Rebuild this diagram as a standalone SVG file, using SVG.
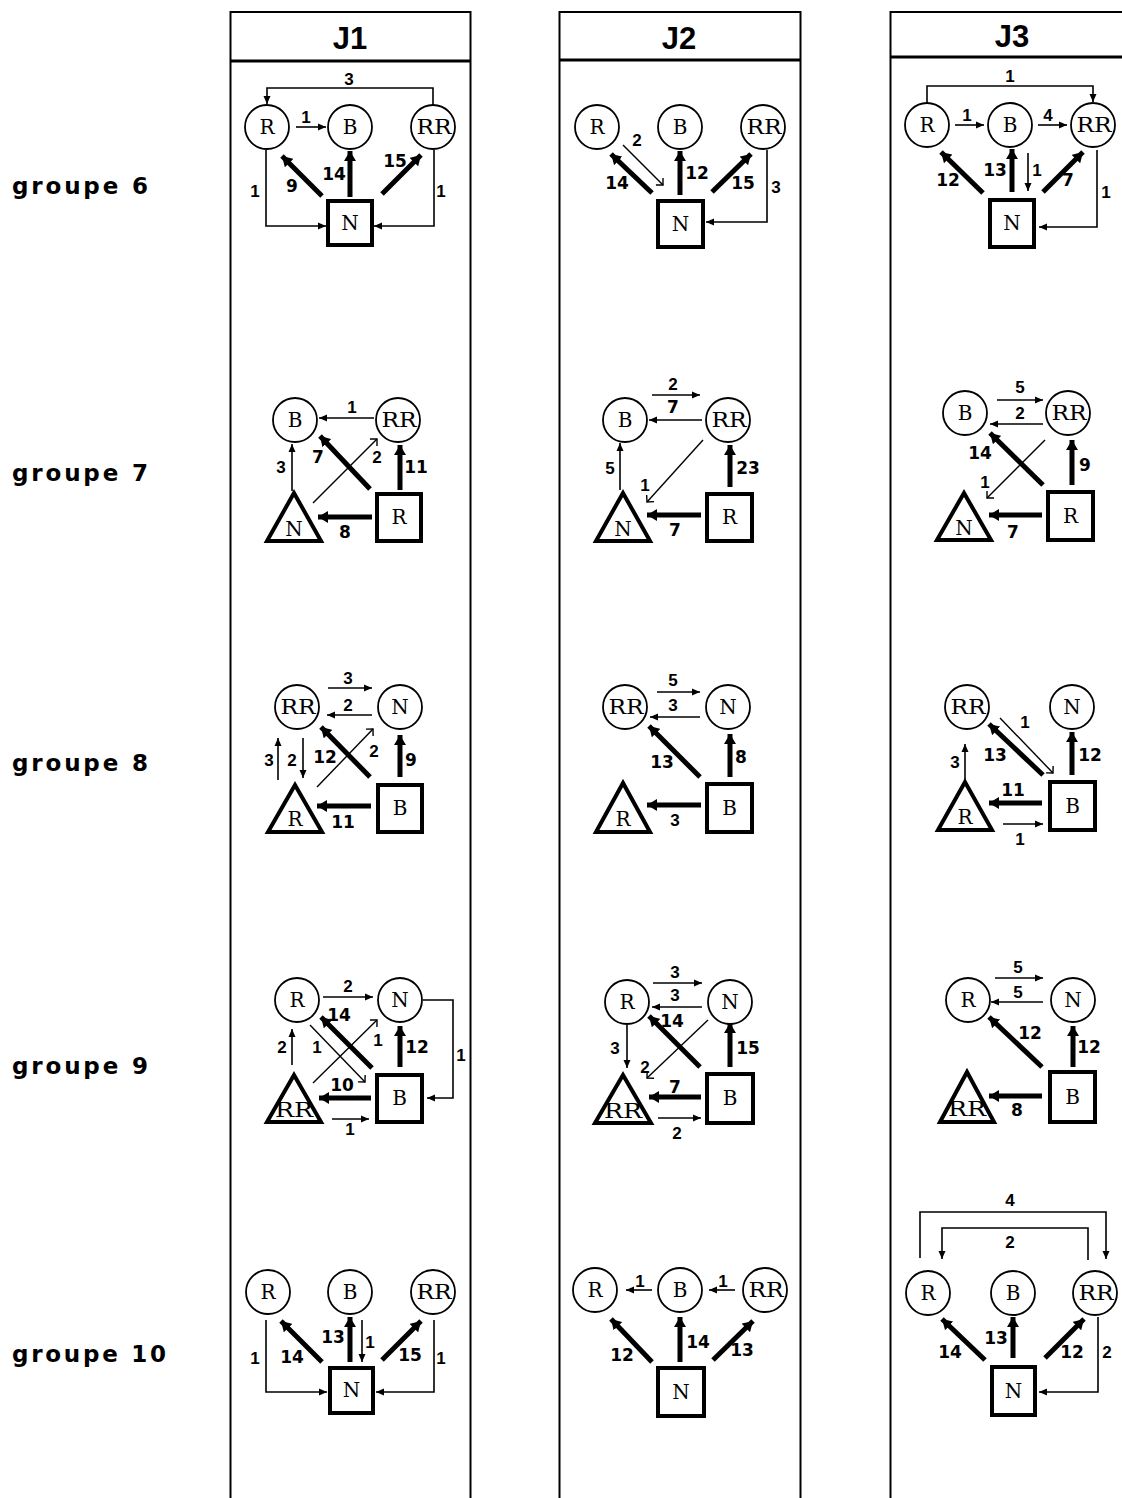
<svg xmlns="http://www.w3.org/2000/svg" width="1122" height="1498" viewBox="0 0 1122 1498">
<style>
.frame{fill:none;stroke:#000;stroke-width:2}
.hd{stroke:#000;stroke-width:3}
.ht{font-family:"Liberation Sans",Arial,sans-serif;font-weight:bold;font-size:31px;text-anchor:middle}
.gl{font-family:"DejaVu Sans",sans-serif;font-weight:bold;font-size:23px}
.c{fill:#fff;stroke:#000;stroke-width:1.8}
.s{fill:#fff;stroke:#000;stroke-width:4}
.t{fill:#fff;stroke:#000;stroke-width:4;stroke-linejoin:miter}
.nl{font-family:"DejaVu Serif","Liberation Serif",serif;font-size:20px;text-anchor:middle}
.tn{fill:none;stroke:#000;stroke-width:1.6;marker-end:url(#a)}
.th{fill:none;stroke:#000;stroke-width:5;marker-end:url(#b)}
.tk{fill:none;stroke:#000;stroke-width:1.4;marker-end:url(#h)}
.lt{font-family:"Liberation Sans",Arial,sans-serif;font-weight:bold;font-size:17px;text-anchor:middle}
.lb{font-family:"DejaVu Sans",sans-serif;font-weight:bold;font-size:17px;text-anchor:middle}
</style>
<defs>
<marker id="a" markerUnits="userSpaceOnUse" viewBox="0 0 8 8" refX="8" refY="4" markerWidth="8" markerHeight="8" orient="auto"><path d="M0,0.5 L8,4 L0,7.5z"/></marker>
<marker id="b" markerUnits="userSpaceOnUse" viewBox="0 0 10 12" refX="10" refY="6" markerWidth="10" markerHeight="12" orient="auto"><path d="M0,0 L10,6 L0,12z"/></marker>
<marker id="h" markerUnits="userSpaceOnUse" viewBox="-7 -7 8 14" refX="0" refY="0" markerWidth="8" markerHeight="14" orient="auto" overflow="visible"><path d="M-5,-5 L0,0 L-5,5" fill="none" stroke="#000" stroke-width="1.4"/></marker>
</defs>
<rect width="1122" height="1498" fill="#fff"/>

<g id="frames">
<rect class="frame" x="230.5" y="12" width="240" height="1500"/>
<line class="hd" x1="230" y1="61" x2="471" y2="61"/>
<text class="ht" x="350" y="49">J1</text>
<rect class="frame" x="559.5" y="12" width="241" height="1500"/>
<line class="hd" x1="559" y1="60" x2="801" y2="60"/>
<text class="ht" x="679" y="49">J2</text>
<rect class="frame" x="890.5" y="12" width="260" height="1500"/>
<line class="hd" x1="890" y1="57" x2="1122" y2="57"/>
<text class="ht" x="1012" y="47">J3</text>
</g>

<g id="row-labels">
<text class="gl" x="12" y="194" textLength="136" lengthAdjust="spacing">groupe 6</text>
<text class="gl" x="12" y="481" textLength="136" lengthAdjust="spacing">groupe 7</text>
<text class="gl" x="12" y="771" textLength="136" lengthAdjust="spacing">groupe 8</text>
<text class="gl" x="12" y="1074" textLength="136" lengthAdjust="spacing">groupe 9</text>
<text class="gl" x="12" y="1362" textLength="154" lengthAdjust="spacing">groupe 10</text>
</g>

<!-- J1 groupe 6 -->
<g id="j1g6-R"><circle class="c" cx="267" cy="127" r="22"/><text class="nl" x="267" y="134">R</text></g>
<g id="j1g6-B"><circle class="c" cx="350" cy="127" r="22"/><text class="nl" x="350" y="134">B</text></g>
<g id="j1g6-RR"><circle class="c" cx="433" cy="127" r="22"/><text class="nl" x="434" y="134" textLength="35" lengthAdjust="spacingAndGlyphs">RR</text></g>
<g id="j1g6-N"><rect class="s" x="328" y="201" width="44" height="44"/><text class="nl" x="350" y="230">N</text></g>
<!-- J1 groupe 7 -->
<g id="j1g7-B"><circle class="c" cx="295" cy="420" r="22"/><text class="nl" x="295" y="427">B</text></g>
<g id="j1g7-RR"><circle class="c" cx="398" cy="420" r="22"/><text class="nl" x="399" y="427" textLength="35" lengthAdjust="spacingAndGlyphs">RR</text></g>
<g id="j1g7-N"><polygon class="t" points="294,493 267,541 321,541"/><text class="nl" x="294" y="536">N</text></g>
<g id="j1g7-R"><rect class="s" x="377" y="494" width="44" height="47"/><text class="nl" x="399" y="524">R</text></g>
<!-- J1 groupe 8 -->
<g id="j1g8-RR"><circle class="c" cx="297" cy="707" r="22"/><text class="nl" x="298" y="714" textLength="35" lengthAdjust="spacingAndGlyphs">RR</text></g>
<g id="j1g8-N"><circle class="c" cx="400" cy="707" r="22"/><text class="nl" x="400" y="714">N</text></g>
<g id="j1g8-R"><polygon class="t" points="295,785 268,832 322,832"/><text class="nl" x="295" y="826">R</text></g>
<g id="j1g8-B"><rect class="s" x="378" y="785" width="44" height="47"/><text class="nl" x="400" y="815">B</text></g>
<!-- J1 groupe 9 -->
<g id="j1g9-R"><circle class="c" cx="297" cy="1000" r="22"/><text class="nl" x="297" y="1007">R</text></g>
<g id="j1g9-N"><circle class="c" cx="400" cy="1000" r="22"/><text class="nl" x="400" y="1007">N</text></g>
<g id="j1g9-RR"><polygon class="t" points="294,1075 267,1122 321,1122"/><text class="nl" x="294" y="1117" textLength="38" lengthAdjust="spacingAndGlyphs">RR</text></g>
<g id="j1g9-B"><rect class="s" x="377" y="1075" width="45" height="47"/><text class="nl" x="399.5" y="1105">B</text></g>
<!-- J1 groupe 10 -->
<g id="j1g10-R"><circle class="c" cx="268" cy="1292" r="22"/><text class="nl" x="268" y="1299">R</text></g>
<g id="j1g10-B"><circle class="c" cx="350" cy="1292" r="22"/><text class="nl" x="350" y="1299">B</text></g>
<g id="j1g10-RR"><circle class="c" cx="433" cy="1292" r="22"/><text class="nl" x="434" y="1299" textLength="35" lengthAdjust="spacingAndGlyphs">RR</text></g>
<g id="j1g10-N"><rect class="s" x="330" y="1368" width="43" height="45"/><text class="nl" x="351.5" y="1397">N</text></g>

<!-- J2 groupe 6 -->
<g id="j2g6-R"><circle class="c" cx="597" cy="127" r="22"/><text class="nl" x="597" y="134">R</text></g>
<g id="j2g6-B"><circle class="c" cx="680" cy="127" r="22"/><text class="nl" x="680" y="134">B</text></g>
<g id="j2g6-RR"><circle class="c" cx="763" cy="127" r="22"/><text class="nl" x="764" y="134" textLength="35" lengthAdjust="spacingAndGlyphs">RR</text></g>
<g id="j2g6-N"><rect class="s" x="658" y="201" width="45" height="46"/><text class="nl" x="680.5" y="231">N</text></g>
<!-- J2 groupe 7 -->
<g id="j2g7-B"><circle class="c" cx="625" cy="420" r="22"/><text class="nl" x="625" y="427">B</text></g>
<g id="j2g7-RR"><circle class="c" cx="728" cy="420" r="22"/><text class="nl" x="729" y="427" textLength="35" lengthAdjust="spacingAndGlyphs">RR</text></g>
<g id="j2g7-N"><polygon class="t" points="623,493 596,541 650,541"/><text class="nl" x="623" y="536">N</text></g>
<g id="j2g7-R"><rect class="s" x="707" y="494" width="45" height="47"/><text class="nl" x="729.5" y="524">R</text></g>
<!-- J2 groupe 8 -->
<g id="j2g8-RR"><circle class="c" cx="625" cy="707" r="22"/><text class="nl" x="626" y="714" textLength="35" lengthAdjust="spacingAndGlyphs">RR</text></g>
<g id="j2g8-N"><circle class="c" cx="728" cy="707" r="22"/><text class="nl" x="728" y="714">N</text></g>
<g id="j2g8-R"><polygon class="t" points="623,783 596,832 650,832"/><text class="nl" x="623" y="826">R</text></g>
<g id="j2g8-B"><rect class="s" x="707" y="784" width="45" height="48"/><text class="nl" x="729.5" y="815">B</text></g>
<!-- J2 groupe 9 -->
<g id="j2g9-R"><circle class="c" cx="627" cy="1002" r="22"/><text class="nl" x="627" y="1009">R</text></g>
<g id="j2g9-N"><circle class="c" cx="730" cy="1002" r="22"/><text class="nl" x="730" y="1009">N</text></g>
<g id="j2g9-RR"><polygon class="t" points="623,1075 595,1123 651,1123"/><text class="nl" x="623" y="1118" textLength="38" lengthAdjust="spacingAndGlyphs">RR</text></g>
<g id="j2g9-B"><rect class="s" x="707" y="1074" width="46" height="49"/><text class="nl" x="730" y="1105">B</text></g>
<!-- J2 groupe 10 -->
<g id="j2g10-R"><circle class="c" cx="595" cy="1290" r="22"/><text class="nl" x="595" y="1297">R</text></g>
<g id="j2g10-B"><circle class="c" cx="680" cy="1290" r="22"/><text class="nl" x="680" y="1297">B</text></g>
<g id="j2g10-RR"><circle class="c" cx="765" cy="1290" r="22"/><text class="nl" x="766" y="1297" textLength="35" lengthAdjust="spacingAndGlyphs">RR</text></g>
<g id="j2g10-N"><rect class="s" x="658" y="1368" width="46" height="48"/><text class="nl" x="681" y="1399">N</text></g>

<!-- J3 groupe 6 -->
<g id="j3g6-R"><circle class="c" cx="927" cy="125" r="22"/><text class="nl" x="927" y="132">R</text></g>
<g id="j3g6-B"><circle class="c" cx="1010" cy="125" r="22"/><text class="nl" x="1010" y="132">B</text></g>
<g id="j3g6-RR"><circle class="c" cx="1093" cy="125" r="22"/><text class="nl" x="1094" y="132" textLength="35" lengthAdjust="spacingAndGlyphs">RR</text></g>
<g id="j3g6-N"><rect class="s" x="990" y="200" width="44" height="47"/><text class="nl" x="1012" y="230">N</text></g>
<!-- J3 groupe 7 -->
<g id="j3g7-B"><circle class="c" cx="965" cy="413" r="22"/><text class="nl" x="965" y="420">B</text></g>
<g id="j3g7-RR"><circle class="c" cx="1068" cy="413" r="22"/><text class="nl" x="1069" y="420" textLength="35" lengthAdjust="spacingAndGlyphs">RR</text></g>
<g id="j3g7-N"><polygon class="t" points="964,493 937,540 991,540"/><text class="nl" x="964" y="535">N</text></g>
<g id="j3g7-R"><rect class="s" x="1048" y="492" width="45" height="48"/><text class="nl" x="1070.5" y="523">R</text></g>
<!-- J3 groupe 8 -->
<g id="j3g8-RR"><circle class="c" cx="967" cy="707" r="22"/><text class="nl" x="968" y="714" textLength="35" lengthAdjust="spacingAndGlyphs">RR</text></g>
<g id="j3g8-N"><circle class="c" cx="1072" cy="707" r="22"/><text class="nl" x="1072" y="714">N</text></g>
<g id="j3g8-R"><polygon class="t" points="965,782 938,830 992,830"/><text class="nl" x="965" y="824">R</text></g>
<g id="j3g8-B"><rect class="s" x="1050" y="782" width="45" height="48"/><text class="nl" x="1072.5" y="813">B</text></g>
<!-- J3 groupe 9 -->
<g id="j3g9-R"><circle class="c" cx="968" cy="1000" r="22"/><text class="nl" x="968" y="1007">R</text></g>
<g id="j3g9-N"><circle class="c" cx="1073" cy="1000" r="22"/><text class="nl" x="1073" y="1007">N</text></g>
<g id="j3g9-RR"><polygon class="t" points="967,1072 940,1122 994,1122"/><text class="nl" x="967" y="1116" textLength="38" lengthAdjust="spacingAndGlyphs">RR</text></g>
<g id="j3g9-B"><rect class="s" x="1050" y="1072" width="45" height="50"/><text class="nl" x="1072.5" y="1104">B</text></g>
<!-- J3 groupe 10 -->
<g id="j3g10-R"><circle class="c" cx="928" cy="1293" r="22"/><text class="nl" x="928" y="1300">R</text></g>
<g id="j3g10-B"><circle class="c" cx="1013" cy="1293" r="22"/><text class="nl" x="1013" y="1300">B</text></g>
<g id="j3g10-RR"><circle class="c" cx="1095" cy="1293" r="22"/><text class="nl" x="1096" y="1300" textLength="35" lengthAdjust="spacingAndGlyphs">RR</text></g>
<g id="j3g10-N"><rect class="s" x="992" y="1367" width="43" height="48"/><text class="nl" x="1013.5" y="1398">N</text></g>

<g id="connectors">
<!-- J1 g6 -->
<path class="tn" d="M433,105 V88 H267 V104"/><text class="lt" x="349" y="85">3</text>
<path class="tn" d="M296,127 H326"/><text class="lt" x="306" y="123">1</text>
<path class="tn" d="M266,150 V226 H326"/><text class="lt" x="255" y="197">1</text>
<path class="tn" d="M434,150 V226 H374"/><text class="lt" x="441" y="197">1</text>
<path class="th" d="M322,196 L282,156"/><text class="lb" x="292" y="192">9</text>
<path class="th" d="M350,197 V151"/><text class="lb" x="334" y="180">14</text>
<path class="th" d="M382,194 L421,155"/><text class="lb" x="395" y="167">15</text>
<!-- J1 g7 -->
<path class="tn" d="M374,418 H319"/><text class="lt" x="352" y="413">1</text>
<path class="tn" d="M292,491 V444"/><text class="lt" x="281" y="473">3</text>
<path class="th" d="M372,517 H318"/><text class="lb" x="345" y="538">8</text>
<path class="th" d="M400,490 V445"/><text class="lb" x="416" y="473">11</text>
<path class="th" d="M370,489 L320,436"/><text class="lb" x="318" y="463">7</text>
<path class="tk" d="M313,503 L377,439"/><text class="lt" x="377" y="463">2</text>
<!-- J1 g8 -->
<path class="tn" d="M328,688 H372"/><text class="lt" x="348" y="684">3</text>
<path class="tn" d="M372,715 H327"/><text class="lt" x="348" y="711">2</text>
<path class="tn" d="M278,780 V738"/><text class="lt" x="269" y="766">3</text>
<path class="tn" d="M303,738 V778"/><text class="lt" x="292" y="766">2</text>
<path class="th" d="M370,777 L321,727"/><text class="lb" x="325" y="763">12</text>
<path class="tk" d="M317,787 L373,729"/><text class="lt" x="374" y="757">2</text>
<path class="th" d="M400,777 V735"/><text class="lb" x="411" y="766">9</text>
<path class="th" d="M371,806 H317"/><text class="lb" x="343" y="828">11</text>
<!-- J1 g9 -->
<path class="tn" d="M323,997 H373"/><text class="lt" x="348" y="992">2</text>
<path class="th" d="M372,1068 L321,1017"/><text class="lb" x="339" y="1021">14</text>
<path class="tk" d="M310,1025 L365,1082"/><text class="lt" x="317" y="1053">1</text>
<path class="tk" d="M313,1083 L377,1020"/><text class="lt" x="378" y="1046">1</text>
<path class="tn" d="M292,1065 V1029"/><text class="lt" x="282" y="1053">2</text>
<path class="th" d="M400,1067 V1026"/><text class="lb" x="417" y="1053">12</text>
<path class="th" d="M371,1098 H319"/><text class="lb" x="342" y="1091">10</text>
<path class="tn" d="M332,1119 H369"/><text class="lt" x="350" y="1135">1</text>
<path class="tn" d="M423,1000 H453 V1098 H427"/><text class="lt" x="461" y="1061">1</text>
<!-- J1 g10 -->
<path class="tn" d="M266,1320 V1392 H327"/><text class="lt" x="255" y="1364">1</text>
<path class="tn" d="M434,1320 V1392 H376"/><text class="lt" x="441" y="1364">1</text>
<path class="th" d="M322,1362 L281,1321"/><text class="lb" x="292" y="1363">14</text>
<path class="th" d="M350,1362 V1317"/><text class="lb" x="333" y="1343">13</text>
<path class="tn" d="M362,1320 V1362"/><text class="lt" x="370" y="1348">1</text>
<path class="th" d="M382,1360 L421,1321"/><text class="lb" x="410" y="1361">15</text>

<!-- J2 g6 -->
<path class="th" d="M652,193 L611,154"/><text class="lb" x="617" y="189">14</text>
<path class="tk" d="M623,145 L663,185"/><text class="lt" x="637" y="146">2</text>
<path class="th" d="M680,195 V151"/><text class="lb" x="697" y="179">12</text>
<path class="th" d="M712,192 L751,154"/><text class="lb" x="743" y="189">15</text>
<path class="tn" d="M767,150 V222 H706"/><text class="lt" x="776" y="193">3</text>
<!-- J2 g7 -->
<path class="tn" d="M652,395 H700"/><text class="lt" x="673" y="390">2</text>
<path class="tn" d="M702,420 H649"/><text class="lb" x="673" y="413">7</text>
<path class="tn" d="M620,490 V443"/><text class="lt" x="610" y="474">5</text>
<path class="tk" d="M703,440 L647,502"/><text class="lt" x="645" y="491">1</text>
<path class="th" d="M730,487 V445"/><text class="lb" x="748" y="474">23</text>
<path class="th" d="M701,515 H647"/><text class="lb" x="675" y="536">7</text>
<!-- J2 g8 -->
<path class="tn" d="M657,692 H700"/><text class="lt" x="673" y="686">5</text>
<path class="tn" d="M700,717 H650"/><text class="lt" x="673" y="711">3</text>
<path class="th" d="M700,777 L649,726"/><text class="lb" x="662" y="768">13</text>
<path class="th" d="M730,777 V734"/><text class="lb" x="741" y="763">8</text>
<path class="th" d="M701,805 H647"/><text class="lt" x="675" y="826">3</text>
<!-- J2 g9 -->
<path class="tn" d="M653,983 H702"/><text class="lt" x="675" y="978">3</text>
<path class="tn" d="M702,1007 H652"/><text class="lt" x="675" y="1001">3</text>
<path class="th" d="M700,1067 L649,1016"/><text class="lb" x="672" y="1027">14</text>
<path class="tk" d="M708,1020 L647,1078"/><text class="lt" x="645" y="1073">2</text>
<path class="tn" d="M627,1025 V1068"/><text class="lt" x="615" y="1054">3</text>
<path class="th" d="M730,1067 V1023"/><text class="lb" x="748" y="1054">15</text>
<path class="th" d="M701,1097 H649"/><text class="lb" x="675" y="1093">7</text>
<path class="tn" d="M658,1118 H701"/><text class="lt" x="677" y="1139">2</text>
<!-- J2 g10 -->
<path class="tn" d="M652,1290 H626"/><text class="lt" x="640" y="1287">1</text>
<path class="tn" d="M735,1290 H709"/><text class="lt" x="723" y="1287">1</text>
<path class="th" d="M652,1362 L611,1319"/><text class="lb" x="622" y="1361">12</text>
<path class="th" d="M680,1362 V1317"/><text class="lb" x="698" y="1348">14</text>
<path class="th" d="M713,1360 L753,1321"/><text class="lb" x="742" y="1356">13</text>

<!-- J3 g6 -->
<path class="tn" d="M927,103 V86 H1093 V102"/><text class="lt" x="1010" y="82">1</text>
<path class="tn" d="M955,125 H984"/><text class="lt" x="967" y="121">1</text>
<path class="tn" d="M1038,125 H1067"/><text class="lt" x="1048" y="121">4</text>
<path class="th" d="M983,193 L941,152"/><text class="lb" x="948" y="186">12</text>
<path class="th" d="M1012,192 V149"/><text class="lb" x="995" y="176">13</text>
<path class="tn" d="M1028,153 V191"/><text class="lt" x="1037" y="176">1</text>
<path class="th" d="M1043,192 L1083,152"/><text class="lb" x="1068" y="186">7</text>
<path class="tn" d="M1097,150 V227 H1039"/><text class="lt" x="1106" y="198">1</text>
<!-- J3 g7 -->
<path class="tn" d="M997,400 H1043"/><text class="lt" x="1020" y="393">5</text>
<path class="tn" d="M1043,424 H990"/><text class="lt" x="1020" y="419">2</text>
<path class="th" d="M1043,485 L990,433"/><text class="lb" x="980" y="459">14</text>
<path class="tk" d="M1045,440 L987,498"/><text class="lt" x="985" y="488">1</text>
<path class="th" d="M1072,485 V440"/><text class="lb" x="1085" y="471">9</text>
<path class="th" d="M1042,515 H989"/><text class="lb" x="1013" y="538">7</text>
<!-- J3 g8 -->
<path class="tk" d="M1000,718 L1053,773"/><text class="lt" x="1025" y="728">1</text>
<path class="th" d="M1043,775 L989,724"/><text class="lb" x="995" y="761">13</text>
<path class="tn" d="M965,780 V744"/><text class="lt" x="955" y="768">3</text>
<path class="th" d="M1072,775 V732"/><text class="lb" x="1090" y="761">12</text>
<path class="th" d="M1042,803 H989"/><text class="lb" x="1013" y="796">11</text>
<path class="tn" d="M1003,824 H1043"/><text class="lt" x="1020" y="845">1</text>
<!-- J3 g9 -->
<path class="tn" d="M995,978 H1043"/><text class="lt" x="1018" y="973">5</text>
<path class="tn" d="M1043,1002 H991"/><text class="lt" x="1018" y="998">5</text>
<path class="th" d="M1042,1067 L989,1017"/><text class="lb" x="1030" y="1039">12</text>
<path class="th" d="M1073,1067 V1026"/><text class="lb" x="1089" y="1053">12</text>
<path class="th" d="M1042,1096 H989"/><text class="lb" x="1017" y="1116">8</text>
<!-- J3 g10 -->
<path class="tn" d="M920,1258 V1212 H1106 V1259"/><text class="lt" x="1010" y="1206">4</text>
<path class="tn" d="M1088,1260 V1228 H942 V1259"/><text class="lt" x="1010" y="1248">2</text>
<path class="th" d="M985,1360 L942,1319"/><text class="lb" x="950" y="1358">14</text>
<path class="th" d="M1013,1358 V1317"/><text class="lb" x="996" y="1344">13</text>
<path class="th" d="M1045,1358 L1084,1319"/><text class="lb" x="1072" y="1358">12</text>
<path class="tn" d="M1098,1317 V1392 H1039"/><text class="lt" x="1107" y="1358">2</text>
</g>
</svg>
